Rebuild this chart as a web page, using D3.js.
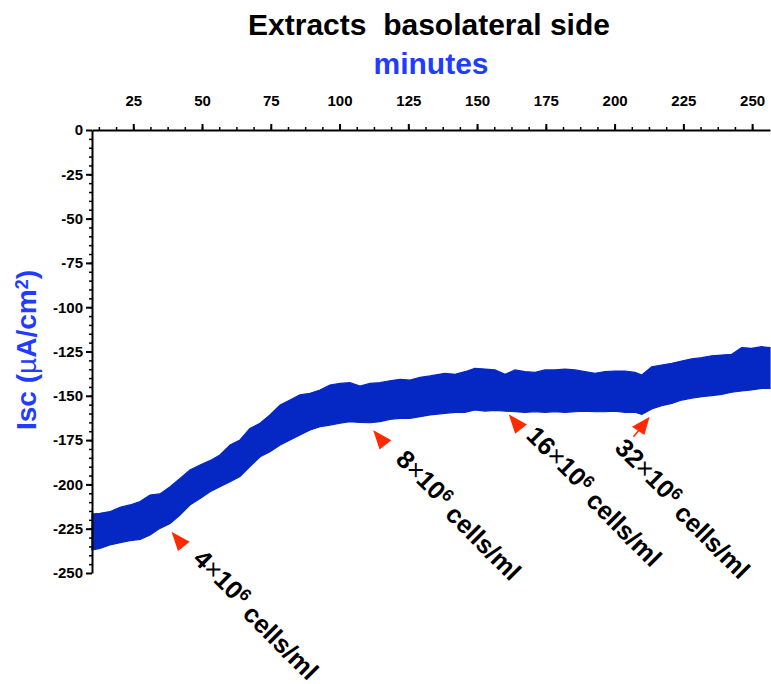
<!DOCTYPE html>
<html>
<head>
<meta charset="utf-8">
<script src="https://cdn.jsdelivr.net/npm/d3@7"></script>
<style>
  body { margin: 0; background: #fff; }
  svg { font-family: "Liberation Sans", Arial, sans-serif; }
  .axis text { font-size: 15px; font-weight: bold; fill: #000; }
  .axis path, .axis line { stroke: #000; stroke-width: 2; }
  .minor line { stroke-width: 1.5; }
</style>
</head>
<body>
<svg width="771" height="684"></svg>
<script>
// Isc trace envelope (top / bottom of the oscillating band)
const minutes = [10, 12.9, 16.5, 20.2, 23.8, 27.5, 31.1, 34.7, 38.4, 42, 45.6, 49.3, 52.9, 56.5, 60.2, 63.8, 67.4, 71.1, 74.7, 78.4,
  82, 85.6, 89.3, 92.9, 96.5, 100.2, 103.8, 107.4, 111.1, 114.7, 118.3, 122, 125.6, 129.3, 132.9, 138.3, 142, 145.6, 149.2, 152.9,
  156.5, 160.2, 163.8, 167.4, 171.1, 174.7, 178.3, 182, 185.6, 189.2, 192.9, 196.5, 200.1, 203.8, 207.4, 209.9, 213.5, 217.1, 220.8, 224.4,
  228, 231.7, 235.3, 238.9, 242.6, 246.2, 249.8, 253.5, 256.5];
const iscTop = [-216.7, -216.3, -215.4, -212.9, -211.6, -209.7, -206, -205.4, -201.3, -196.6, -191.9, -189.1, -186.6, -183.4, -177.8, -174.9, -168.4, -165.5, -160.8, -155.2,
  -152.4, -149.5, -148.6, -146.7, -143.9, -143, -142.6, -144.5, -143, -142.6, -141.5, -140.7, -141.1, -139.6, -138.8, -137.3, -137.9, -136.4, -134.5, -134.9,
  -135.4, -137.9, -135.4, -136.4, -136.8, -135.4, -135.4, -134.9, -135.4, -136.4, -137.3, -136.4, -136, -136, -136.8, -138.3, -133.6, -132.6, -131.7, -130.4,
  -129.2, -128.5, -127.4, -127, -126.6, -122.8, -123.2, -122.3, -122.8];
const iscBottom = [-237, -236.1, -234.2, -232.9, -231.8, -231, -228.6, -224.8, -222, -217.3, -211.6, -207.9, -204.1, -201.3, -198.5, -195.6, -190, -184.4, -181.5, -177.8,
  -174.9, -172.1, -169.3, -167.4, -166.5, -165.5, -164.6, -165, -165.2, -164.6, -163.3, -162.7, -162.7, -161.8, -160.8, -159.9, -159.3, -159.3, -158, -158.6,
  -158.2, -158.6, -159, -159.3, -159, -159.3, -159, -159.3, -159, -158.6, -159, -159, -158.6, -159.3, -159.3, -160.5, -157.4, -155.6, -154.3, -152.4,
  -151.4, -150.5, -149.9, -149.2, -148, -147.3, -146.7, -145.8, -145.8];

// cell additions (arrow tips)
const doseMinutes = [39.4, 112.7, 162, 212.3];
const doseIsc = [-227.6, -170.3, -161.4, -162.7];
const doseCells = ["4", "8", "16", "32"];

const xTicks = [25, 50, 75, 100, 125, 150, 175, 200, 225, 250];
const yTicks = [0, -25, -50, -75, -100, -125, -150, -175, -200, -225, -250];

const svg = d3.select("svg");

const x = d3.scaleLinear().domain([10, 256.5]).range([92, 770]);
const y = d3.scaleLinear().domain([0, -250]).range([130, 573]);

// titles
svg.append("text")
  .attr("x", 429).attr("y", 35)
  .attr("text-anchor", "middle")
  .style("white-space", "pre")
  .style("font-size", "30px").style("font-weight", "bold")
  .text("Extracts  basolateral side");

svg.append("text")
  .attr("x", 431).attr("y", 74)
  .attr("text-anchor", "middle")
  .style("font-size", "30px").style("font-weight", "bold")
  .style("fill", "#1f3cff")
  .text("minutes");

const yLabel = svg.append("text")
  .attr("transform", "translate(36, 350) rotate(-90)")
  .attr("text-anchor", "middle")
  .style("font-size", "28px").style("font-weight", "bold")
  .style("fill", "#1f3cff");
yLabel.append("tspan").text("Isc (");
yLabel.append("tspan").style("font-weight", "normal").text("µ");
yLabel.append("tspan").text("A/cm");
yLabel.append("tspan").attr("dy", "-0.45em").style("font-size", "18px").text("2");
yLabel.append("tspan").attr("dy", "0.3em").text(")");

// the band
const area = d3.area()
  .x((d, i) => x(minutes[i]))
  .y0((d, i) => y(iscBottom[i]))
  .y1((d, i) => y(iscTop[i]));

svg.append("path")
  .datum(minutes)
  .attr("d", area)
  .style("fill", "#0527c4")
  .style("stroke", "#0527c4")
  .style("stroke-width", 1.2)
  .style("stroke-linejoin", "miter");

// axes: minor ticks first, then majors with labels
const fmt = d => String(d); // plain hyphen minus like the original

svg.append("g")
  .attr("class", "axis minor")
  .attr("transform", "translate(0,130)")
  .call(d3.axisTop(x).tickValues(d3.range(12.5, 256, 6.25)).tickSize(3).tickFormat(""))
  .call(g => g.select(".domain").remove());

svg.append("g")
  .attr("class", "axis")
  .attr("transform", "translate(0,130)")
  .call(d3.axisTop(x).tickValues(xTicks).tickSize(6).tickSizeOuter(0).tickPadding(18).tickFormat(fmt));

svg.append("g")
  .attr("class", "axis minor")
  .attr("transform", "translate(92,0)")
  .call(d3.axisLeft(y).tickValues(d3.range(-5, -250, -5)).tickSize(3).tickFormat(""))
  .call(g => g.select(".domain").remove());

svg.append("g")
  .attr("class", "axis")
  .attr("transform", "translate(92,0)")
  .call(d3.axisLeft(y).tickValues(yTicks).tickSize(6).tickSizeOuter(0).tickPadding(3).tickFormat(fmt));

// arrows and labels
const labelOffset = [[19, 27], [20, 29], [15, 21], [-35, 31]];

const doses = svg.selectAll("g.dose")
  .data(doseMinutes)
  .enter()
  .append("g")
  .attr("class", "dose")
  .attr("transform", (d, i) => `translate(${x(d)},${y(doseIsc[i])})`);

// arrowhead pointing up-left (up-right for the last one)
doses.append("path")
  .attr("d", (d, i) => i === 3
    ? "M0,0 L-15,8.5 L-4.5,15.5 Z M-9.5,12 L-15,18.5"
    : "M0,0 L15.5,8.5 L5.5,16.5 Z")
  .style("fill", "#ff2a00")
  .style("stroke", "#ff2a00")
  .style("stroke-width", 1.5);

const labels = doses.append("text")
  .attr("transform", (d, i) => `translate(${labelOffset[i][0]},${labelOffset[i][1]}) rotate(45)`)
  .style("font-size", "25.5px").style("font-weight", "bold");

labels.append("tspan").text((d, i) => doseCells[i]);
labels.append("tspan").style("font-weight", "normal").text("×");
labels.append("tspan").text("10");
labels.append("tspan").attr("dy", "-0.45em").style("font-size", "17px").text("6");
labels.append("tspan").attr("dy", "0.45em").text(" cells/ml");
</script>
</body>
</html>
